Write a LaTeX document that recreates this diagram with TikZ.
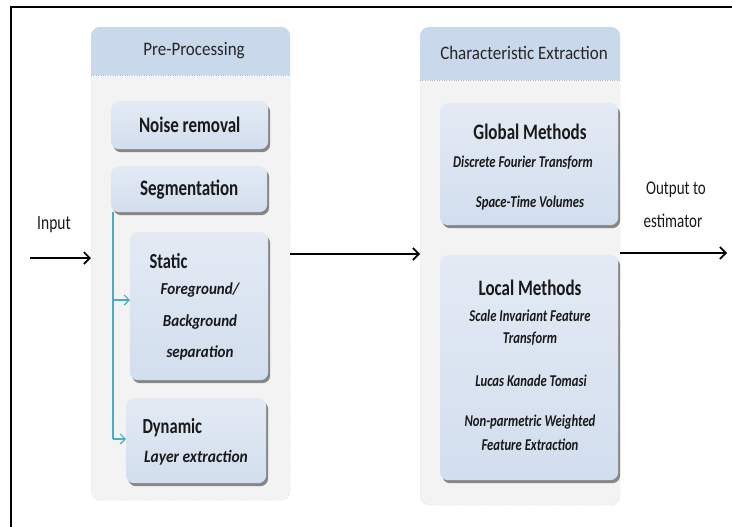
\documentclass[tikz,border=0pt]{standalone}
\usepackage{fontspec}
\usepackage{graphicx}
\setmainfont{Carlito}
\usetikzlibrary{arrows.meta,shadows,positioning}

\definecolor{paneltop}{HTML}{C9D8EB}
\definecolor{panelbody}{HTML}{F3F3F3}
\definecolor{panelrule}{HTML}{B8B8B8}
\definecolor{boxtop}{HTML}{E3EAF4}
\definecolor{boxbot}{HTML}{D2DEEE}
\definecolor{linkblue}{HTML}{4BACC6}

% tall, narrow lettering
\newcommand{\tallA}[1]{\scalebox{1}[1.12]{#1}}
\newcommand{\tallB}[1]{\scalebox{1}[1.3]{#1}}

\tikzset{
  panel/.style={draw=panelrule, dotted, fill=panelbody, rounded corners=9pt,
    inner sep=0pt, anchor=north west},
  stagebox/.style={rounded corners=8pt, top color=boxtop, bottom color=boxbot,
    draw=none, inner sep=0pt, anchor=north west,
    drop shadow={shadow xshift=2pt, shadow yshift=-3pt, opacity=0.6, fill=black!75}},
  head/.style={font=\fontsize{17}{20}\selectfont, text=black!85},
  title/.style={font=\bfseries\fontsize{17}{20}\selectfont, text=black!90},
  subtitle/.style={font=\bfseries\fontsize{16.5}{20}\selectfont, text=black!90, anchor=west},
  method/.style={font=\bfseries\itshape\fontsize{12.7}{15}\selectfont, text=black!90},
  bigmethod/.style={font=\bfseries\itshape\fontsize{15}{18}\selectfont, text=black!90},
  flow/.style={-{Straight Barb[length=6pt,width=12pt,line width=1.6pt]}, line width=1.8pt, black},
  branch/.style={-{Straight Barb[length=5pt,width=10pt,line width=1.2pt]}, line width=1.3pt, linkblue},
  plain/.style={font=\fontsize{15}{17}\selectfont, text=black!90}
}

\begin{document}
\begin{tikzpicture}[x=1pt,y=-1pt]
\useasboundingbox (0,0) rectangle (732,527);

% outer frame (top and left rules)
\draw[line width=2.6pt] (11,527) -- (11,7) -- (732,7);

% ---- Pre-Processing panel
\node[panel, minimum width=199pt, minimum height=473pt] (lp) at (91,27) {};
\begin{scope}
  \clip[rounded corners=9pt] (91,27) rectangle (290,500);
  \fill[paneltop] (91,27) rectangle (290,75);
\end{scope}
\draw[panelrule, dotted] (91,75) -- (290,75);
\node[head] (lph) at (194,51) {\tallA{Pre-Processing}};

\node[stagebox, minimum width=157pt, minimum height=48pt] (noise) at (111,101) {};
\node[title] at (noise.center) {\tallB{Noise removal}};

\node[stagebox, minimum width=156pt, minimum height=46pt] (seg) at (111,166) {};
\node[title] at (seg.center) {\tallB{Segmentation}};

\node[stagebox, minimum width=138pt, minimum height=148pt] (static) at (130,232) {};
\node[subtitle] (statict) at (146,261) {\tallB{Static}};
\node[bigmethod] at (200,290) {\tallA{Foreground/}};
\node[bigmethod] at (200,322) {\tallA{Background}};
\node[bigmethod] at (200,353) {\tallA{separation}};

\node[stagebox, minimum width=140pt, minimum height=85pt] (dyn) at (126,398) {};
\node[subtitle] (dynt) at (139,428) {\tallB{Dynamic}};
\node[bigmethod, font=\bfseries\itshape\fontsize{15.5}{18}\selectfont] at (196,458) {\tallA{Layer extraction}};

% branches from segmentation
\coordinate (trunk) at (113,212);
\draw[linkblue, line width=1.3pt] (trunk) -- (113,439);
\draw[branch] (113,300) -- (static.west |- 0,300);
\draw[branch] (113,439) -- (dyn.west |- 0,439);

% ---- Characteristic Extraction panel
\node[panel, minimum width=200pt, minimum height=478pt] (rp) at (420,27) {};
\begin{scope}
  \clip[rounded corners=9pt] (420,27) rectangle (620,505);
  \fill[paneltop] (420,27) rectangle (620,80);
\end{scope}
\draw[panelrule, dotted] (420,80) -- (620,80);
\node[head] (rph) at (524,53) {\tallA{Characteristic Extraction}};

\node[stagebox, minimum width=178pt, minimum height=122pt] (glob) at (440,103) {};
\node[title] at (530,132) {\tallB{Global Methods}};
\node[method] at (523,163) {\tallB{Discrete Fourier Transform}};
\node[method] at (530,203) {\tallB{Space-Time Volumes}};

\node[stagebox, minimum width=178pt, minimum height=225pt] (loc) at (440,255) {};
\node[title] at (530,288) {\tallB{Local Methods}};
\node[method] at (530,316) {\tallB{Scale Invariant Feature}};
\node[method] at (530,339) {\tallB{Transform}};
\node[method] at (531,381) {\tallB{Lucas Kanade Tomasi}};
\node[method] at (530,422) {\tallB{Non-parmetric Weighted}};
\node[method] at (530,445) {\tallB{Feature Extraction}};

% ---- flow between stages
\coordinate (in) at (30,258);
\node[plain, font=\fontsize{15.5}{17}\selectfont] (inl) at (54,225) {\tallB{Input}};
\draw[flow] (in) -- (lp.west |- in);

\draw[flow] (lp.east |- 0,254) -- (rp.west |- 0,254);

\coordinate (out) at (727,253);
\node[plain] (outl1) at (676,190) {\tallB{Output to}};
\node[plain] (outl2) at (673,221) {\tallB{estimator}};
\draw[flow] (rp.east |- out) -- (out);
\end{tikzpicture}
\end{document}
